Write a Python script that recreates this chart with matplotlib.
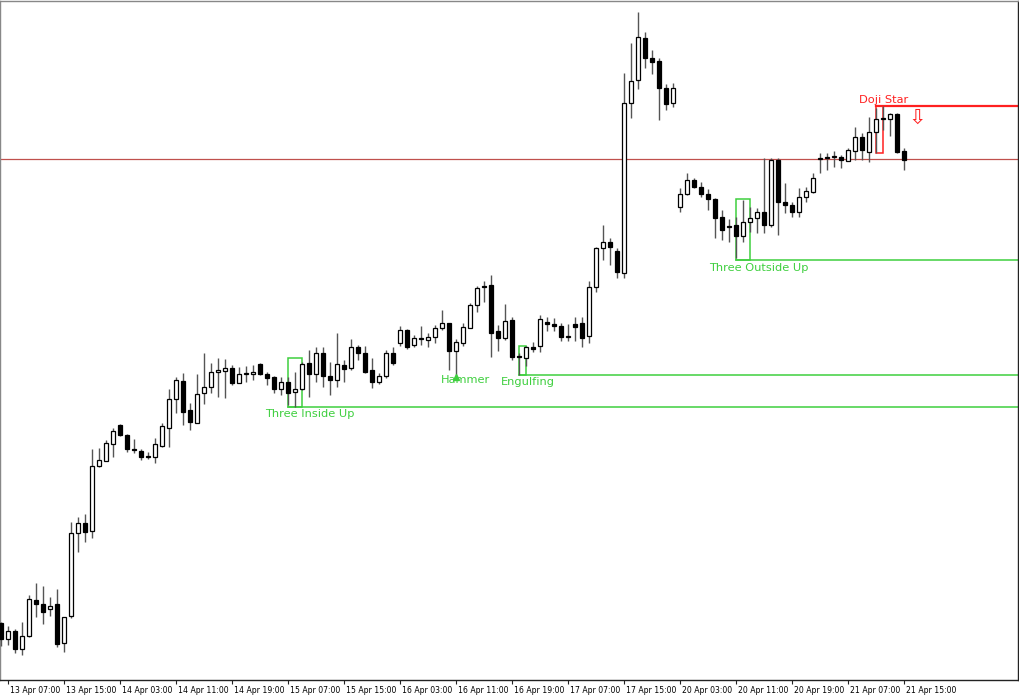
"""Hourly candlestick chart with detected candle patterns, MT4 style
"""
import matplotlib
matplotlib.use('Agg')
import matplotlib.pyplot as plt
import matplotlib.transforms as mtransforms
from matplotlib.patches import Rectangle

# Candles, values in chart points (no price scale shown on the original)
opens = [
    77, 61, 69, 51, 64, 100, 96, 91, 96, 57,
    84, 167, 177, 169, 234, 239, 256, 275, 265, 251,
    249, 244, 243, 254, 272, 301, 319, 290, 277, 307,
    313, 328, 329, 332, 317, 326, 326, 336, 326, 323,
    311, 318, 308, 311, 337, 326, 347, 324, 320, 335,
    332, 353, 347, 330, 318, 324, 347, 357, 370, 355,
    361, 360, 363, 372, 377, 349, 357, 372, 395, 414,
    415, 369, 362, 380, 344, 342, 353, 354, 378, 376,
    374, 363, 376, 377, 364, 413, 452, 458, 449, 427,
    597, 620, 662, 642, 639, 612, 597, 493, 506, 520,
    513, 506, 501, 483, 474, 475, 464, 478, 482, 488,
    475, 540, 498, 495, 488, 503, 508, 541, 542, 543,
    543, 539, 549, 563, 548, 568, 581, 581, 586, 549,
]
closes = [
    61, 69, 51, 64, 101, 96, 88, 94, 56, 83,
    167, 177, 168, 234, 240, 257, 269, 265, 251, 250,
    243, 243, 256, 274, 301, 320, 288, 278, 306, 313,
    328, 330, 332, 317, 326, 326, 328, 326, 322, 311,
    318, 307, 311, 336, 326, 347, 324, 320, 336, 331,
    353, 347, 328, 318, 324, 347, 337, 370, 353, 362,
    361, 363, 372, 377, 349, 358, 373, 395, 412, 413,
    367, 362, 379, 343, 343, 353, 351, 381, 376, 374,
    363, 363, 373, 362, 413, 452, 458, 453, 428, 597,
    619, 663, 642, 638, 612, 596, 612, 506, 520, 513,
    506, 501, 482, 470, 473, 464, 478, 482, 488, 475,
    540, 498, 495, 488, 503, 509, 522, 541, 542, 543,
    540, 550, 563, 550, 568, 581, 581, 586, 548, 540,
]
highs = [
    78, 74, 71, 78, 105, 117, 114, 103, 111, 83,
    178, 183, 186, 251, 252, 260, 272, 276, 266, 261,
    251, 248, 262, 277, 311, 323, 327, 297, 326, 347,
    337, 342, 341, 335, 333, 334, 335, 337, 328, 324,
    323, 323, 328, 338, 350, 353, 353, 338, 367, 340,
    361, 355, 354, 342, 327, 350, 353, 374, 371, 365,
    374, 367, 375, 390, 377, 361, 377, 397, 414, 419,
    425, 375, 396, 383, 347, 354, 358, 385, 383, 382,
    377, 376, 383, 383, 419, 453, 475, 462, 452, 627,
    657, 688, 668, 650, 642, 616, 617, 512, 527, 522,
    518, 511, 502, 490, 481, 483, 500, 493, 492, 542,
    542, 542, 517, 498, 512, 513, 527, 547, 547, 549,
    545, 552, 573, 567, 583, 592, 594, 587, 587, 552,
]
lows = [
    54, 55, 47, 45, 63, 83, 76, 84, 53, 48,
    82, 148, 158, 162, 233, 239, 243, 264, 248, 247,
    240, 241, 237, 253, 253, 287, 275, 270, 277, 296,
    307, 303, 302, 315, 317, 318, 320, 325, 315, 307,
    305, 295, 293, 310, 303, 318, 313, 305, 313, 318,
    330, 340, 327, 312, 316, 322, 335, 354, 351, 353,
    355, 353, 357, 370, 330, 325, 354, 372, 388, 398,
    343, 349, 360, 340, 325, 334, 348, 348, 369, 369,
    359, 359, 359, 353, 357, 408, 440, 435, 422, 422,
    582, 611, 632, 626, 580, 590, 593, 488, 505, 512,
    503, 490, 462, 460, 458, 442, 458, 468, 467, 467,
    473, 465, 487, 483, 483, 498, 507, 527, 530, 533,
    532, 539, 540, 540, 538, 547, 570, 564, 547, 530,
]

# Time axis labels, one every 8 bars starting at bar 1
tick_labels = [
    '13 Apr 07:00', '13 Apr 15:00', '14 Apr 03:00', '14 Apr 11:00',
    '14 Apr 19:00', '15 Apr 07:00', '15 Apr 15:00', '16 Apr 03:00',
    '16 Apr 11:00', '16 Apr 19:00', '17 Apr 07:00', '17 Apr 15:00',
    '20 Apr 03:00', '20 Apr 11:00', '20 Apr 19:00', '21 Apr 07:00',
    '21 Apr 15:00',
]
tick_bars = [1 + 8 * i for i in range(len(tick_labels))]

# Pattern boxes: name, first bar, last bar, top, bottom, label spot, colour
pattern_names = ['Three Inside Up', 'Engulfing', 'Three Outside Up', 'Doji Star']
pattern_first = [41, 74, 105, 125]
pattern_last = [43, 75, 107, 126]
pattern_top = [342, 354, 501, 594]
pattern_bottom = [293, 325.5, 440, 547]
pattern_label_bar = [44.1, 75.3, 108.3, 126.1]
pattern_label_y = [286, 318, 432, 600]
pattern_colors = ['#3ecf3e', '#3ecf3e', '#3ecf3e', '#ff2020']

hammer_bar = 65
hammer_label_bar = 66.3
hammer_label_y = 320
doji_arrow_bar = 130.9
doji_arrow_y = 582
level_price = 541

fig = plt.figure(figsize=(10.2, 7.0), dpi=100)
ax = fig.add_axes([0.0, 20 / 700, 1018 / 1020, 679 / 700])
ax.set_xlim(-1 / 7, 1017 / 7)
ax.set_ylim(20, 699)

# Horizontal level
ax.axhline(level_price, color='#c0504d', lw=0.9, zorder=1)

# Pattern boxes and their support / resistance lines
for i, name in enumerate(pattern_names):
    c = pattern_colors[i]
    x0 = pattern_first[i]
    x1 = pattern_last[i]
    top = pattern_top[i]
    bottom = pattern_bottom[i]
    ax.add_patch(Rectangle((x0, bottom), x1 - x0, top - bottom,
                           fill=False, edgecolor=c, lw=1.1, zorder=2))
    if name == 'Doji Star':
        ax.plot([x0, 200], [top, top], color=c, lw=1.6, zorder=2)
    else:
        ax.plot([x0, 200], [bottom, bottom], color=c, lw=1.1, zorder=2)
    ax.text(pattern_label_bar[i], pattern_label_y[i], name, color=c,
            fontsize=8.2, ha='center', va='center', zorder=5)

# Hammer marker and label
ax.plot([hammer_bar], [lows[hammer_bar] - 1.5], marker='^', ms=4,
        color='#3ecf3e', mec='#3ecf3e', zorder=5)
ax.text(hammer_label_bar, hammer_label_y, 'Hammer', color='#3ecf3e',
        fontsize=8.2, ha='center', va='center', zorder=5)

# Doji star sell arrow
ax.text(doji_arrow_bar, doji_arrow_y, '\u21e9', color='#ff2020',
        fontsize=15, ha='center', va='center', zorder=5)

# Candles
body_w = 0.62
for i in range(len(opens)):
    o, c, h, l = opens[i], closes[i], highs[i], lows[i]
    ax.plot([i, i], [l, h], color='#555555', lw=1.0, zorder=3,
            solid_capstyle='butt')
    bottom = min(o, c)
    height = max(abs(c - o), 0.6)
    face = 'white' if c >= o else 'black'
    ax.add_patch(Rectangle((i - body_w / 2, bottom), body_w, height,
                           facecolor=face, edgecolor='black', lw=0.9,
                           zorder=4))

# Frame and ticks
for side in ['left', 'top']:
    ax.spines[side].set_color('#888888')
for side in ['right', 'bottom']:
    ax.spines[side].set_color('#222222')
for side in ax.spines:
    ax.spines[side].set_linewidth(1.0)
ax.set_yticks([])
ax.set_xticks(tick_bars)
ax.set_xticklabels(tick_labels, fontsize=5.6, ha='left')
ax.tick_params(axis='x', length=3, width=0.8, color='#222222', pad=1.5,
               labelcolor='black')
# labels start just right of their tick
offset = mtransforms.ScaledTranslation(2 / 100, 0, fig.dpi_scale_trans)
for lbl in ax.get_xticklabels():
    lbl.set_transform(lbl.get_transform() + offset)

fig.savefig('out.png', dpi=100, facecolor='white')
